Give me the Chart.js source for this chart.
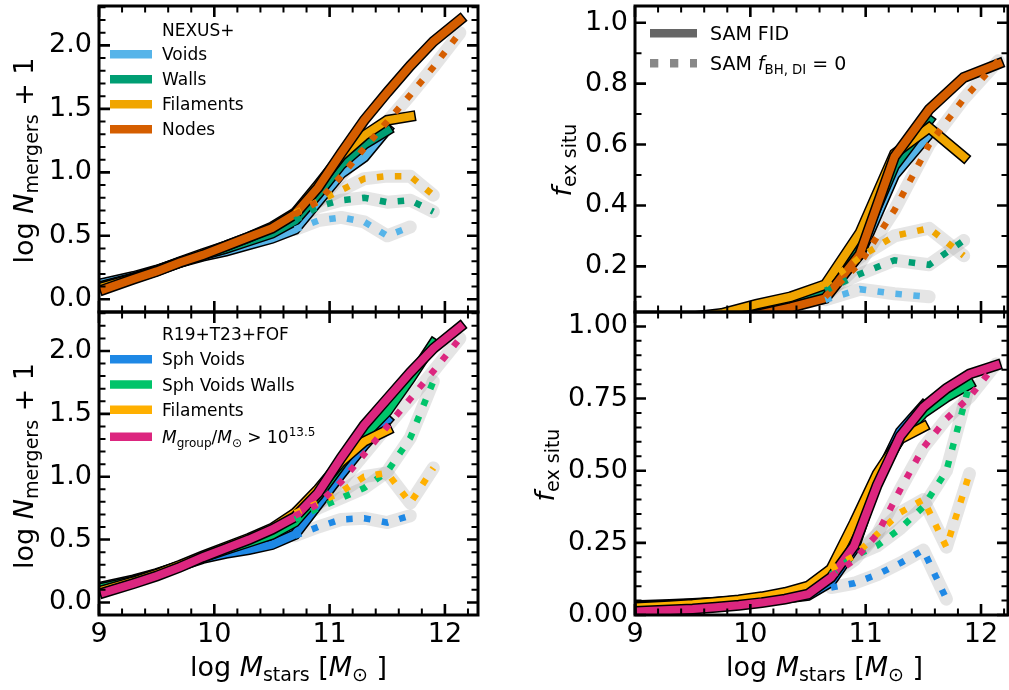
<!DOCTYPE html>
<html>
<head>
<meta charset="utf-8">
<script src="https://cdn.jsdelivr.net/npm/chart.js@4.4.1/dist/chart.umd.min.js"></script>
<style>
  body { margin: 0; background: #fff; }
  .wrap { position: relative; width: 1009px; height: 690px; }
  canvas { position: absolute; left: 0; top: 0; }
</style>
</head>
<body>
<div class="wrap">
  <canvas id="tl" width="1009" height="690"></canvas>
  <canvas id="tr" width="1009" height="690"></canvas>
  <canvas id="bl" width="1009" height="690"></canvas>
  <canvas id="br" width="1009" height="690"></canvas>
</div>
<script>
// ---- data: log M_stars bins ----
const massLeft = [9.05, 9.3, 9.5, 9.7, 9.9, 10.1, 10.3, 10.5, 10.7, 10.9, 11.1, 11.3, 11.5, 11.7, 11.9, 12.13];
const massTopRight = [9.15, 9.45, 9.75, 10.05, 10.35, 10.65, 10.95, 11.25, 11.55, 11.85, 12.15];
const massBotRight = [9.05, 9.3, 9.5, 9.7, 9.9, 10.1, 10.3, 10.5, 10.7, 10.9, 11.1, 11.3, 11.5, 11.7, 11.9, 12.13];

// top left: log N_mergers + 1, NEXUS+ (SAM FID, then SAM f_BH,DI = 0)
const tlVoids     = [0.13, 0.18, 0.23, 0.29, 0.34, 0.38, 0.43, 0.48, 0.55, 0.77, 0.99, 1.12, 1.34, null, null, null];
const tlWalls     = [0.11, 0.17, 0.225, 0.29, 0.35, 0.40, 0.46, 0.52, 0.62, 0.83, 1.06, 1.22, 1.33, null, null, null];
const tlFilaments = [0.10, 0.165, 0.225, 0.295, 0.36, 0.42, 0.49, 0.57, 0.68, 0.90, 1.13, 1.29, 1.41, 1.44, null, null];
const tlNodes     = [0.08, 0.16, 0.22, 0.29, 0.35, 0.42, 0.49, 0.56, 0.67, 0.88, 1.15, 1.41, 1.63, 1.84, 2.03, 2.20];
const tlVoidsDI     = [null, null, null, null, null, null, null, null, 0.55, 0.62, 0.645, 0.61, 0.50, 0.57, null, null];
const tlWallsDI     = [null, null, null, null, null, null, null, null, 0.62, 0.73, 0.78, 0.80, 0.765, 0.78, 0.69, null];
const tlFilamentsDI = [null, null, null, null, null, null, null, null, 0.68, 0.77, 0.86, 0.95, 0.97, 0.97, 0.82, null];
const tlNodesDI     = [null, null, null, null, null, null, null, null, 0.67, 0.77, 0.97, 1.19, 1.40, 1.61, 1.83, 2.10];

// top right: f_ex situ, NEXUS+
const trVoids     = [0.02, 0.028, 0.037, 0.05, 0.075, 0.11, 0.24, 0.50, 0.635, null, null];
const trWalls     = [0.022, 0.03, 0.04, 0.058, 0.082, 0.12, 0.265, 0.53, 0.68, null, null];
const trFilaments = [0.025, 0.032, 0.045, 0.075, 0.10, 0.14, 0.31, 0.57, 0.655, 0.56, null];
const trNodes     = [0.015, 0.02, 0.028, 0.04, 0.065, 0.095, 0.24, 0.56, 0.715, 0.82, 0.865];
const trVoidsDI     = [null, null, null, null, null, 0.09, 0.125, 0.11, 0.10, null, null];
const trWallsDI     = [null, null, null, null, null, 0.12, 0.175, 0.22, 0.205, 0.285, null];
const trFilamentsDI = [null, null, null, null, null, 0.14, 0.23, 0.30, 0.325, 0.235, null];
const trNodesDI     = [null, null, null, null, null, 0.10, 0.21, 0.385, 0.60, 0.75, 0.875];

// bottom left: log N_mergers + 1, R19+T23+FOF
const blVoids     = [0.13, 0.18, 0.23, 0.29, 0.35, 0.39, 0.42, 0.46, 0.54, 0.78, 1.02, 1.25, 1.45, null, null, null];
const blWalls     = [0.12, 0.17, 0.225, 0.29, 0.36, 0.42, 0.48, 0.54, 0.64, 0.85, 1.10, 1.33, 1.52, 1.78, 2.06, null];
const blFilaments = [0.10, 0.165, 0.225, 0.295, 0.37, 0.44, 0.51, 0.59, 0.71, 0.90, 1.12, 1.28, 1.37, null, null, null];
const blGroups    = [0.08, 0.15, 0.21, 0.28, 0.36, 0.43, 0.50, 0.58, 0.68, 0.87, 1.15, 1.41, 1.62, 1.83, 2.02, 2.19];
const blVoidsDI     = [null, null, null, null, null, null, null, null, 0.53, 0.60, 0.66, 0.67, 0.635, 0.69, null, null];
const blWallsDI     = [null, null, null, null, null, null, null, null, 0.66, 0.75, 0.83, 0.91, 1.04, 1.31, 1.76, null];
const blFilamentsDI = [null, null, null, null, null, null, null, null, 0.71, 0.79, 0.88, 1.00, 1.03, 0.79, 1.07, null];
const blGroupsDI    = [null, null, null, null, null, null, null, null, 0.69, 0.78, 0.96, 1.18, 1.40, 1.62, 1.84, 2.10];

// bottom right: f_ex situ, R19+T23+FOF
const brVoids     = [0.033, 0.036, 0.04, 0.044, 0.048, 0.052, 0.058, 0.068, 0.115, 0.23, 0.47, 0.635, 0.725, null, null, null];
const brWalls     = [0.03, 0.034, 0.038, 0.043, 0.05, 0.058, 0.07, 0.085, 0.135, 0.26, 0.47, 0.615, 0.70, 0.755, 0.80, null];
const brFilaments = [0.027, 0.032, 0.037, 0.044, 0.052, 0.063, 0.078, 0.10, 0.16, 0.32, 0.49, 0.61, 0.652, null, null, null];
const brGroups    = [0.013, 0.017, 0.021, 0.027, 0.034, 0.043, 0.055, 0.072, 0.13, 0.24, 0.45, 0.62, 0.72, 0.785, 0.835, 0.865];
const brVoidsDI     = [null, null, null, null, null, null, null, null, 0.095, 0.11, 0.14, 0.18, 0.225, 0.055, null, null];
const brWallsDI     = [null, null, null, null, null, null, null, null, 0.14, 0.205, 0.24, 0.30, 0.375, 0.50, 0.80, null];
const brFilamentsDI = [null, null, null, null, null, null, null, null, 0.16, 0.205, 0.28, 0.355, 0.40, 0.235, 0.49, null];
const brGroupsDI    = [null, null, null, null, null, null, null, null, 0.135, 0.19, 0.28, 0.435, 0.58, 0.68, 0.755, 0.87];

// tick labels
const massTicks = [9, 10, 11, 12];
const mergerTicks = [0, 0.5, 1, 1.5, 2];
const fexTopTicks = [0.2, 0.4, 0.6, 0.8, 1.0];
const fexBotTicks = [0, 0.25, 0.5, 0.75, 1.0];

const nexusLabels = ['Voids', 'Walls', 'Filaments', 'Nodes'];
const r19Labels = ['Sph Voids', 'Sph Voids Walls', 'Filaments'];

const nexusColors = ['#56B4E9', '#009E73', '#F0A500', '#D55E00'];
const r19Colors = ['#1E88E5', '#00C46A', '#FFB000', '#DC267F'];

const FONT = "'DejaVu Sans', sans-serif";

function setFont(ctx, size, italic) {
  ctx.font = (italic ? 'italic ' : '') + size + 'px ' + FONT;
}

// parts: [text, size, italic, dy]
function richText(ctx, parts, x, y, align, rotate) {
  let w = 0;
  parts.forEach(p => { setFont(ctx, p[1], p[2]); w += ctx.measureText(p[0]).width; });
  ctx.save();
  ctx.translate(x, y);
  if (rotate) ctx.rotate(-Math.PI / 2);
  ctx.textBaseline = 'alphabetic';
  ctx.textAlign = 'left';
  ctx.fillStyle = '#000';
  let cx = align === 'center' ? -w / 2 : 0;
  parts.forEach(p => {
    setFont(ctx, p[1], p[2]);
    ctx.fillText(p[0], cx, p[3] || 0);
    cx += ctx.measureText(p[0]).width;
  });
  ctx.restore();
}

function minors(lo, hi, step, majors) {
  const out = [];
  for (let k = Math.ceil(lo / step - 1e-9); k * step <= hi + 1e-9; k++) {
    const v = +(k * step).toFixed(4);
    if (!majors.some(m => Math.abs(m - v) < 1e-6)) out.push(v);
  }
  return out;
}

const framePlugin = {
  id: 'frame',
  afterDraw(chart) {
    const p = chart.options.plugins.panel;
    const { ctx, chartArea: a } = chart;
    const xs = chart.scales.x, ys = chart.scales.y;
    ctx.save();
    ctx.strokeStyle = '#000';
    ctx.setLineDash([]);
    ctx.lineCap = 'butt';

    const xTick = (vals, len, w) => {
      ctx.lineWidth = w;
      vals.forEach(v => {
        const px = xs.getPixelForValue(v);
        ctx.beginPath();
        ctx.moveTo(px, a.bottom); ctx.lineTo(px, a.bottom - len);
        ctx.moveTo(px, a.top); ctx.lineTo(px, a.top + len);
        ctx.stroke();
      });
    };
    const yTick = (vals, len, w) => {
      ctx.lineWidth = w;
      vals.forEach(v => {
        const py = ys.getPixelForValue(v);
        ctx.beginPath();
        ctx.moveTo(a.left, py); ctx.lineTo(a.left + len, py);
        ctx.moveTo(a.right, py); ctx.lineTo(a.right - len, py);
        ctx.stroke();
      });
    };
    xTick(massTicks, 11, 2.6);
    xTick(minors(9, p.xmax, 0.2, massTicks), 6.5, 2);
    yTick(p.yTicks, 11, 2.6);
    yTick(minors(p.ymin, p.ymax, p.yMinor, p.yTicks), 6.5, 2);

    ctx.lineWidth = 3;
    ctx.strokeRect(a.left, a.top, a.right - a.left, a.bottom - a.top);
    ctx.restore();
  }
};

const annotPlugin = {
  id: 'annot',
  afterDraw(chart) {
    const p = chart.options.plugins.panel;
    const ctx = chart.ctx;
    richText(ctx, p.yTitle.parts, p.yTitle.x, p.yTitle.y, 'center', true);
    if (p.xTitle) richText(ctx, p.xTitle.parts, p.xTitle.x, p.xTitle.y, 'center', false);
    const lg = p.legend;
    if (lg.title) richText(ctx, [[lg.title, lg.size]], lg.textX, lg.titleY, 'left', false);
    lg.rows.forEach(r => {
      ctx.save();
      ctx.strokeStyle = r.color;
      ctx.lineWidth = 8.5;
      ctx.lineCap = 'butt';
      ctx.setLineDash(r.dash || []);
      ctx.beginPath();
      ctx.moveTo(lg.x0, r.y);
      ctx.lineTo(lg.x1, r.y);
      ctx.stroke();
      ctx.restore();
      richText(ctx, r.parts, lg.textX, r.y + lg.size * 0.36, 'left', false);
    });
  }
};

function buildDatasets(grid, solid, dotted, colors) {
  const pts = ys => grid.map((x, i) => ({ x: x, y: ys[i] }));
  const ds = [];
  dotted.forEach((ys, i) => ds.push({
    data: pts(ys), borderColor: 'rgba(150,150,150,0.25)', borderWidth: 13,
    borderCapStyle: 'round', borderJoinStyle: 'round', order: 100 - i
  }));
  solid.forEach((ys, i) => {
    ds.push({ data: pts(ys), borderColor: '#000', borderWidth: 11,
      borderCapStyle: 'square', borderJoinStyle: 'miter', order: 60 - 2 * i });
    ds.push({ data: pts(ys), borderColor: colors[i], borderWidth: 8,
      borderCapStyle: 'square', borderJoinStyle: 'miter', order: 59 - 2 * i });
  });
  dotted.forEach((ys, i) => ds.push({
    data: pts(ys), borderColor: colors[i], borderWidth: 6.5, borderDash: [6.5, 11.5],
    borderCapStyle: 'butt', borderJoinStyle: 'miter', order: 20 - i
  }));
  return ds.map(d => Object.assign({ type: 'line', pointRadius: 0, tension: 0, fill: false, clip: 0, spanGaps: false }, d));
}

function makePanel(p) {
  const zeroPad = s => { s.paddingLeft = 0; s.paddingRight = 0; s.paddingTop = 0; s.paddingBottom = 0; };
  new Chart(document.getElementById(p.id), {
    type: 'line',
    data: { datasets: buildDatasets(p.grid, p.solid, p.dotted, p.colors) },
    options: {
      responsive: false,
      animation: false,
      devicePixelRatio: 1,
      events: [],
      layout: {
        autoPadding: false,
        padding: { left: 0, top: p.area.top, right: 1009 - p.area.right, bottom: 690 - p.area.bottom - 60 }
      },
      plugins: { legend: { display: false }, tooltip: { enabled: false }, panel: p },
      scales: {
        x: {
          type: 'linear', position: 'bottom', min: 9, max: p.xmax,
          grid: { display: false, drawTicks: false }, border: { display: false },
          ticks: {
            display: p.xLabels, color: '#000', padding: 4, autoSkip: false, maxRotation: 0,
            font: { family: FONT, size: 27 }, callback: v => String(v)
          },
          afterBuildTicks: s => { s.ticks = massTicks.map(v => ({ value: v })); },
          afterFit: s => { s.height = 60; zeroPad(s); }
        },
        y: {
          type: 'linear', position: 'left', min: p.ymin, max: p.ymax,
          grid: { display: false, drawTicks: false }, border: { display: false },
          ticks: {
            color: '#000', padding: 7, autoSkip: false,
            font: { family: FONT, size: 27 }, callback: v => v.toFixed(p.dec)
          },
          afterBuildTicks: s => { s.ticks = p.yTicks.map(v => ({ value: v })); },
          afterFit: s => { s.width = p.area.left; zeroPad(s); }
        }
      }
    },
    plugins: [framePlugin, annotPlugin]
  });
}

const mergersTitle = [['log ', 27], ['N', 27, true], ['mergers', 19, false, 5], [' + 1', 27]];
const fexTitle = [['f', 27, true], ['ex situ', 19, false, 5]];
const massTitle = [['log ', 27], ['M', 27, true], ['stars', 19, false, 5], [' [', 27], ['M', 27, true], ['\u2299', 19, false, 5], [' ]', 27]];

const nexusLegend = {
  title: 'NEXUS+', titleY: 36, size: 17, x0: 110, x1: 152, textX: 162,
  rows: nexusLabels.map((l, i) => ({ y: 54.3 + 25 * i, color: nexusColors[i], parts: [[l, 17]] }))
};
const r19Rows = r19Labels.map((l, i) => ({ y: 359.3 + 25.2 * i, color: r19Colors[i], parts: [[l, 17]] }));
r19Rows.push({ y: 436.7, color: r19Colors[3], parts: [
  ['M', 17, true], ['group', 12, false, 4], ['/', 17], ['M', 17, true], ['\u2299', 12, false, 4],
  [' > 10', 17], ['13.5', 12, false, -7]
] });
const r19Legend = { title: 'R19+T23+FOF', titleY: 340, size: 17, x0: 110, x1: 152, textX: 162, rows: r19Rows };
const samLegend = {
  title: null, size: 19, x0: 650, x1: 697, textX: 710,
  rows: [
    { y: 33.3, color: '#666666', parts: [['SAM FID', 19]] },
    { y: 63.3, color: '#888888', dash: [8.3, 11.7], parts: [['SAM ', 19], ['f', 19, true], ['BH, DI', 13.3, false, 4], [' = 0', 19]] }
  ]
};

makePanel({
  id: 'tl', area: { left: 99, top: 6, right: 478, bottom: 312 }, xmax: 12.287, ymin: -0.1, ymax: 2.31,
  yTicks: mergerTicks, yMinor: 0.1, dec: 1, xLabels: false, grid: massLeft,
  solid: [tlVoids, tlWalls, tlFilaments, tlNodes], dotted: [tlVoidsDI, tlWallsDI, tlFilamentsDI, tlNodesDI],
  colors: nexusColors, yTitle: { x: 33, y: 160.5, parts: mergersTitle }, xTitle: null, legend: nexusLegend
});
makePanel({
  id: 'tr', area: { left: 635, top: 6, right: 1008, bottom: 312 }, xmax: 12.234, ymin: 0.05, ymax: 1.055,
  yTicks: fexTopTicks, yMinor: 0.1, dec: 1, xLabels: false, grid: massTopRight,
  solid: [trVoids, trWalls, trFilaments, trNodes], dotted: [trVoidsDI, trWallsDI, trFilamentsDI, trNodesDI],
  colors: nexusColors, yTitle: { x: 571, y: 160, parts: fexTitle }, xTitle: null, legend: samLegend
});
makePanel({
  id: 'bl', area: { left: 99, top: 312, right: 478, bottom: 615 }, xmax: 12.287, ymin: -0.1, ymax: 2.31,
  yTicks: mergerTicks, yMinor: 0.1, dec: 1, xLabels: true, grid: massLeft,
  solid: [blVoids, blWalls, blFilaments, blGroups], dotted: [blVoidsDI, blWallsDI, blFilamentsDI, blGroupsDI],
  colors: r19Colors, yTitle: { x: 33, y: 466, parts: mergersTitle }, xTitle: { x: 288.5, y: 676, parts: massTitle },
  legend: r19Legend
});
makePanel({
  id: 'br', area: { left: 635, top: 312, right: 1008, bottom: 615 }, xmax: 12.234, ymin: 0, ymax: 1.05,
  yTicks: fexBotTicks, yMinor: 0.05, dec: 2, xLabels: true, grid: massBotRight,
  solid: [brVoids, brWalls, brFilaments, brGroups], dotted: [brVoidsDI, brWallsDI, brFilamentsDI, brGroupsDI],
  colors: r19Colors, yTitle: { x: 553.5, y: 465, parts: fexTitle }, xTitle: { x: 824.5, y: 676, parts: massTitle },
  legend: { title: null, size: 17, x0: 0, x1: 0, textX: 0, rows: [] }
});
</script>
</body>
</html>
